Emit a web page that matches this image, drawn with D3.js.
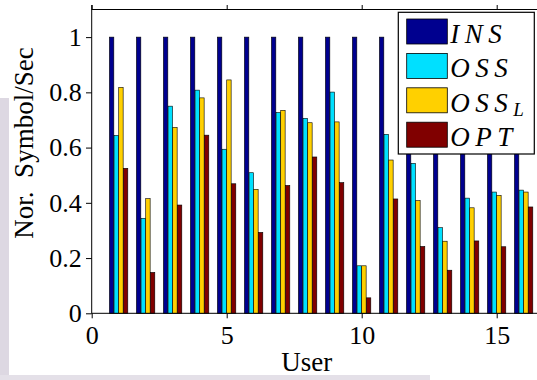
<!DOCTYPE html>
<html>
<head>
    <title>Nor. Symbol/Sec per user</title>
    <script src="https://d3js.org/d3.v7.min.js"></script>
    <style>
        body { margin: 0; background: #fff; }
        svg { display: block; }
        .axis line { stroke: #000; stroke-width: 1; }
    </style>
</head>
<body>
<div id="chart"></div>
<script>
    // data
    const users = d3.range(1, 17);
    const series = ['INS', 'OSS', 'OSSL', 'OPT'];
    const ins  = [1, 1, 1, 1, 1, 1, 1, 1, 1, 1, 1, 1, 1, 1, 1, 1];
    const oss  = [0.644, 0.344, 0.750, 0.808, 0.594, 0.509, 0.727, 0.706, 0.801, 0.172, 0.648, 0.543, 0.310, 0.417, 0.439, 0.446];
    const ossl = [0.818, 0.415, 0.673, 0.780, 0.845, 0.449, 0.735, 0.690, 0.693, 0.172, 0.555, 0.408, 0.261, 0.382, 0.427, 0.439];
    const opt  = [0.525, 0.148, 0.392, 0.645, 0.469, 0.293, 0.463, 0.566, 0.473, 0.056, 0.414, 0.242, 0.156, 0.262, 0.241, 0.385];
    const yTicks = [0, 0.2, 0.4, 0.6, 0.8, 1];
    const xTicks = [0, 5, 10, 15];

    const colors = { INS: '#00008f', OSS: '#00e0ff', OSSL: '#ffd000', OPT: '#800000' };
    const values = { INS: ins, OSS: oss, OSSL: ossl, OPT: opt };

    const width = 537, height = 380;
    const plotLeft = 91.7, plotTop = 9.5, plotBottom = 313.3, plotRight = 550.7;
    const serif = '"Liberation Serif"';

    const svg = d3.select('#chart').append('svg')
        .attr('width', width)
        .attr('height', height);

    // scanned-paper edge on the left and bottom
    svg.append('rect').attr('x', 0).attr('y', 98).attr('width', 9).attr('height', 282)
        .attr('fill', '#ddd8e2');
    svg.append('rect').attr('x', 0).attr('y', 375).attr('width', 430).attr('height', 5)
        .attr('fill', '#e4e0e8');

    const x = d3.scaleLinear().domain([0, 17]).range([plotLeft, plotRight]);
    const y = d3.scaleLinear().domain([0, 1.1]).range([plotBottom, plotTop]);
    const inner = d3.scaleBand().domain(series).range([-9.3, 9.1]).paddingInner(0.05);

    // bars
    const rows = [];
    users.forEach((u, i) => series.forEach(s => rows.push({ user: u, key: s, value: values[s][i] })));

    svg.append('g').selectAll('rect')
        .data(rows)
        .enter()
        .append('rect')
        .attr('x', d => x(d.user) + inner(d.key))
        .attr('y', d => y(d.value))
        .attr('width', inner.bandwidth())
        .attr('height', d => y(0) - y(d.value))
        .attr('fill', d => colors[d.key])
        .attr('stroke', '#000')
        .attr('stroke-width', 0.6);

    // axes
    const yAxis = svg.append('g')
        .attr('class', 'axis')
        .attr('transform', `translate(${plotLeft},0)`)
        .call(d3.axisLeft(y).tickValues(yTicks).tickSize(5.7).tickPadding(4.3)
            .tickFormat(d => d3.format('~g')(d)));
    yAxis.select('.domain').remove();
    yAxis.selectAll('text').style('font-size', '26px').style('font-family', serif).style('fill', '#000');

    const xAxis = svg.append('g')
        .attr('class', 'axis')
        .attr('transform', `translate(0,${plotBottom})`)
        .call(d3.axisBottom(x).tickValues(xTicks).tickSize(5).tickPadding(7.5)
            .tickFormat(d3.format('d')));
    xAxis.select('.domain').remove();
    xAxis.selectAll('text').style('font-size', '26px').style('font-family', serif).style('fill', '#000');

    const xTop = svg.append('g')
        .attr('class', 'axis')
        .attr('transform', `translate(0,${plotTop})`)
        .call(d3.axisTop(x).tickValues(xTicks).tickSize(4.5).tickFormat(''));
    xTop.select('.domain').remove();

    // frame
    svg.append('rect')
        .attr('x', plotLeft).attr('y', plotTop)
        .attr('width', plotRight - plotLeft).attr('height', plotBottom - plotTop)
        .attr('fill', 'none').attr('stroke', '#000').attr('stroke-width', 1);
    svg.append('line')
        .attr('x1', plotLeft).attr('x2', plotLeft).attr('y1', 5).attr('y2', plotTop)
        .attr('stroke', '#000');

    // labels
    svg.append('text')
        .attr('x', 306.7).attr('y', 370.7)
        .attr('text-anchor', 'middle')
        .style('font-family', serif)
        .style('font-size', '27px')
        .text('User');

    svg.append('text')
        .attr('transform', 'translate(33,143) rotate(-90)')
        .attr('text-anchor', 'middle')
        .style('font-family', serif)
        .style('font-size', '27px')
        .text('Nor.\u00a0 Symbol/Sec');

    // legend
    const legend = svg.append('g');
    legend.append('rect')
        .attr('x', 398.3).attr('y', 12.3)
        .attr('width', 136).attr('height', 141.7)
        .attr('fill', '#fff').attr('stroke', '#000').attr('stroke-width', 1.2);

    const item = legend.selectAll('g.item')
        .data(series)
        .enter()
        .append('g')
        .attr('class', 'item')
        .attr('transform', (d, i) => `translate(406.7,${19 + i * 34.4})`);

    item.append('rect')
        .attr('width', 40.6).attr('height', 25)
        .attr('fill', d => colors[d])
        .attr('stroke', '#000').attr('stroke-width', 0.8);

    const label = item.append('text')
        .attr('x', 43.5).attr('y', 23.7)
        .style('font-family', serif)
        .style('font-size', '27px')
        .style('font-style', 'italic')
        .style('letter-spacing', '5.5px');
    label.append('tspan').text(d => d === 'OSSL' ? 'OSS' : d);
    label.filter(d => d === 'OSSL').append('tspan')
        .attr('dy', 5).style('font-size', '19px').style('letter-spacing', '0px')
        .text('L');
</script>
</body>
</html>
